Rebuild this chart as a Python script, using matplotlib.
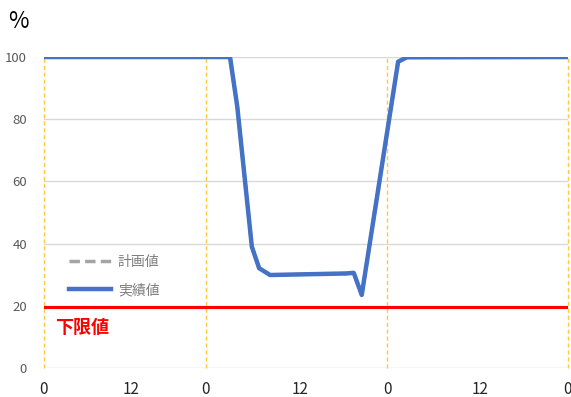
import matplotlib.pyplot as plt

plt.rcParams['font.family'] = ['Noto Sans CJK JP', 'DejaVu Sans']

# 時間軸（時間）と値（%）
hours = [0, 25.6, 26.6, 28.6, 29.6, 31.1, 41.6, 42.6, 43.7, 48.7, 49.9, 72]
actual = [100, 100, 84.0, 39.0, 32.1, 29.9, 30.4, 30.6, 23.5, 98.5, 99.9, 100]
plan = actual[:]

lower_limit = 19.5

tick_hours = [0, 12, 22.3, 35.2, 47.2, 60, 72]
tick_labels = ['0', '12', '0', '12', '0', '12', '0']
day_lines = [0, 22.3, 47.2, 72]

fig = plt.figure(figsize=(5.71, 3.97), dpi=100)
ax = fig.add_axes([43.7 / 571, 29 / 397, 524 / 571, 311 / 397])

for y in [20, 40, 60, 80, 100]:
    ax.axhline(y, color='#d9d9d9', lw=1, zorder=1)
ax.axhline(0, color='#d0d0d0', lw=1, zorder=1)
for d in day_lines:
    ax.axvline(d, color='#ffc940', lw=1, ls=(0, (3, 2)), zorder=1, clip_on=False)

ax.plot(hours, plan, color='#a5a5a5', lw=2.5, ls=(0, (3, 1.5)), label='計画値', zorder=2)
ax.plot(hours, actual, color='#4472c4', lw=3.2, label='実績値', zorder=3)
ax.axhline(lower_limit, color='#ff0000', lw=2.2, zorder=4)
ax.text(1.6, 13.0, '下限値', color='#ff0000', fontsize=13, fontweight='bold',
        va='center', ha='left')

ax.set_xlim(0, 72)
ax.set_ylim(0, 100)
ax.set_xticks(tick_hours)
ax.set_xticklabels(tick_labels, fontsize=11, color='#262626')
ax.set_yticks([0, 20, 40, 60, 80, 100])
ax.tick_params(axis='x', length=0, pad=9)
ax.tick_params(axis='y', length=0, pad=12, labelsize=9.5, labelcolor='#595959')
for s in ax.spines.values():
    s.set_visible(False)

fig.text(8 / 571, 1 - 22 / 397, '%', fontsize=16, va='center', ha='left', color='#000000')

leg = ax.legend(loc='upper left', bbox_to_anchor=(0.025, 0.405), frameon=False,
                fontsize=10, handlelength=3.0, labelspacing=1.05, handletextpad=0.5)
for t in leg.get_texts():
    t.set_color('#7f7f7f')

fig.savefig('out.png', dpi=100)
